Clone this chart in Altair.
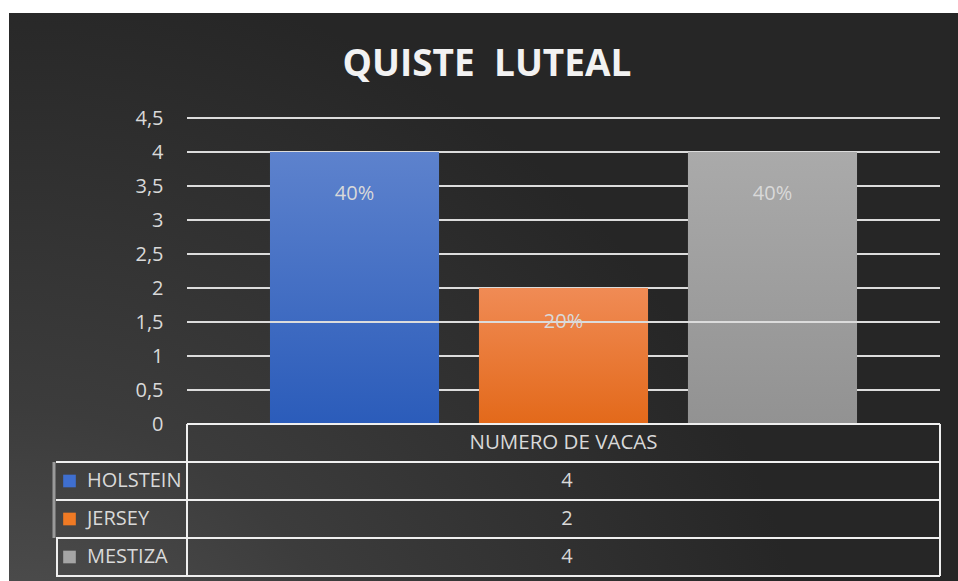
import altair as alt
import pandas as pd

# ---- data ----
breeds = ["HOLSTEIN", "JERSEY", "MESTIZA"]
counts = [4, 2, 4]
pct_labels = ["40%", "20%", "40%"]
y_ticks = [0.5, 1, 1.5, 2, 2.5, 3, 3.5, 4, 4.5]
front_line = [1.5]
title_text = "QUISTE\u00a0 LUTEAL"
series_name = "NUMERO DE VACAS"

df = pd.DataFrame({"breed": breeds, "value": counts, "pct": pct_labels})
grid_df = pd.DataFrame({"v": y_ticks})
front_df = pd.DataFrame({"v": front_line})
one = pd.DataFrame({"t": [title_text], "s": [series_name]})

FONT = "Open Sans"
TXT = "#d9d9d9"
LINE = "#efefef"
W, H = 753, 306
ydom = alt.Scale(domain=[0, 4.5])

bar_colors = {
    "HOLSTEIN": ("#5d82cd", "#2b5cba"),
    "JERSEY": ("#f08b55", "#e3691a"),
    "MESTIZA": ("#aaaaaa", "#929292"),
}
sq_colors = ["#3f6fd0", "#f07a24", "#a5a5a5"]

# background
bg = alt.Chart(one).mark_rect(
    fill=alt.Gradient(
        gradient="radial",
        stops=[alt.GradientStop(color="#5a5a5a", offset=0),
               alt.GradientStop(color="#3c3c3c", offset=0.45),
               alt.GradientStop(color="#262626", offset=1)],
        x1=0, y1=1, x2=0, y2=1, r1=0, r2=0.85),
).encode(x=alt.value(-178), x2=alt.value(771), y=alt.value(-105), y2=alt.value(463))

grid = alt.Chart(grid_df).mark_rule(color="#dcdcdc", strokeWidth=2).encode(
    x=alt.value(0), x2=alt.value(W), y=alt.Y("v:Q", scale=ydom, axis=None))

xscale = alt.Scale(domain=breeds, paddingInner=0.191, paddingOuter=0.397)

bars = []
for i, b in enumerate(breeds):
    top, bot = bar_colors[b]
    bars.append(
        alt.Chart(df).transform_filter(alt.datum.breed == b).mark_bar(
            fill=alt.Gradient(gradient="linear",
                              stops=[alt.GradientStop(color=top, offset=0),
                                     alt.GradientStop(color=bot, offset=1)],
                              x1=0, y1=0, x2=0, y2=1)
        ).encode(
            x=alt.X("breed:N", scale=xscale, axis=None),
            y=alt.Y("value:Q", scale=ydom,
                    axis=alt.Axis(values=y_ticks + [0], grid=False, domain=False, ticks=False,
                                  labelExpr="replace(format(datum.value, ''), '.', ',')",
                                  labelFont=FONT, labelFontSize=20, labelColor=TXT,
                                  labelPadding=24, zindex=1, title=None) if i == 0 else None),
        )
    )

front = alt.Chart(front_df).mark_rule(color="#dcdcdc", strokeWidth=2).encode(
    x=alt.value(0), x2=alt.value(W), y=alt.Y("v:Q", scale=ydom, axis=None))

lab_hi = alt.Chart(df).transform_filter(alt.datum.value >= 4).mark_text(
    font=FONT, fontSize=20, color=TXT, baseline="middle", dy=42).encode(
    x=alt.X("breed:N", scale=xscale, axis=None), y=alt.Y("value:Q", scale=ydom, axis=None), text="pct:N")
lab_lo = alt.Chart(df).transform_filter(alt.datum.value < 4).mark_text(
    font=FONT, fontSize=20, color=TXT, baseline="middle", dy=34).encode(
    x=alt.X("breed:N", scale=xscale, axis=None), y=alt.Y("value:Q", scale=ydom, axis=None), text="pct:N")

title = alt.Chart(one).mark_text(font=FONT, fontSize=37, fontWeight="bold", color="#f2f2f2",
                                 baseline="alphabetic").encode(
    x=alt.value(300), y=alt.value(-42), text="t:N")

# table lines
def rule(x1, x2, y1, y2, color=LINE, w=2):
    return alt.Chart(one).mark_rule(color=color, strokeWidth=w).encode(
        x=alt.value(x1), x2=alt.value(x2), y=alt.value(y1), y2=alt.value(y2))

lines = [
    rule(0, W, 306, 306),
    rule(-131, W, 344, 344),
    rule(-131, W, 382, 382),
    rule(-131, W, 420, 420),
    rule(-131, W, 458, 458),
    rule(0, 0, 306, 458),
    rule(W, W, 306, 458),
    rule(-133, -133, 344, 420, color="#9a9a9a", w=3),
    rule(-130, -130, 420, 458),
]

header = alt.Chart(one).mark_text(font=FONT, fontSize=20.5, color=TXT, baseline="middle").encode(
    x=alt.value(376.5), y=alt.value(325), text="s:N")

rowscale = alt.Scale(domain=breeds, type="point", range=[363, 439], padding=0)
row_vals = alt.Chart(df).mark_text(font=FONT, fontSize=20, color=TXT, baseline="middle").encode(
    x=alt.value(380), y=alt.Y("breed:N", scale=rowscale, axis=None), text="value:Q")
row_labs = alt.Chart(df).mark_text(font=FONT, fontSize=20, color=TXT, baseline="middle",
                                   align="left").encode(
    x=alt.value(-100), y=alt.Y("breed:N", scale=rowscale, axis=None), text="breed:N")
row_sq = alt.Chart(df).mark_square(size=160, opacity=1).encode(
    x=alt.value(-117.5), y=alt.Y("breed:N", scale=rowscale, axis=None),
    fill=alt.Fill("breed:N", scale=alt.Scale(domain=breeds, range=sq_colors), legend=None))

chart = alt.layer(
    bg, grid, *bars, front, lab_hi, lab_lo, title, *lines, header, row_vals, row_labs, row_sq
).resolve_scale(y="independent").properties(
    width=W, height=H,
    autosize=alt.AutoSizeParams(type="none"),
    padding={"left": 187, "top": 118, "right": 18, "bottom": 157},
    background="white",
).configure_view(stroke=None)

chart.save("out.html", embed_options={"renderer": "svg", "actions": False})
